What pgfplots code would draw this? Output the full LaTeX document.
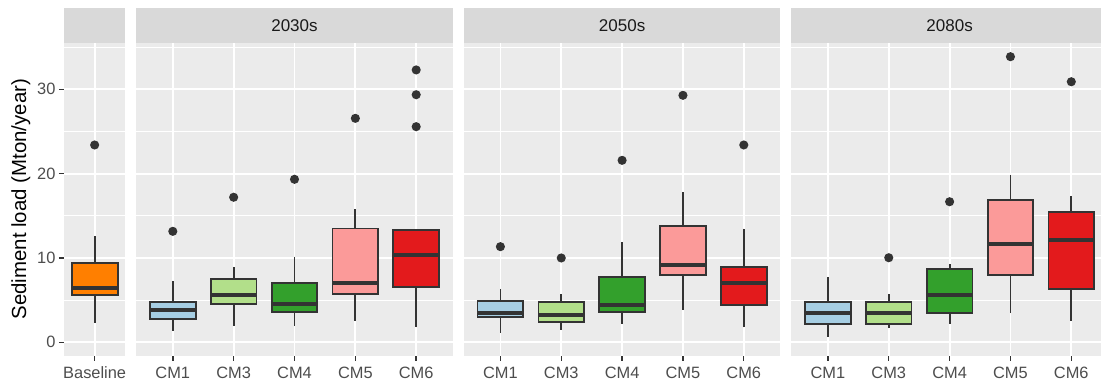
\documentclass[border=0pt]{standalone}
\usepackage{fontspec}
\setmainfont{Liberation Sans}
\usepackage{pgfplots}
\pgfplotsset{compat=1.18}
\usepgfplotslibrary{statistics}
\definecolor{panelbg}{HTML}{EBEBEB}
\definecolor{stripbg}{HTML}{D9D9D9}
\definecolor{striptext}{HTML}{1A1A1A}
\definecolor{textgray}{HTML}{4D4D4D}
\definecolor{tickcol}{HTML}{333333}
\definecolor{boxline}{HTML}{333333}
\definecolor{dotcol}{HTML}{333333}
\definecolor{cBase}{HTML}{FF7F00}
\definecolor{cCMa}{HTML}{A6CEE3}
\definecolor{cCMc}{HTML}{B2DF8A}
\definecolor{cCMd}{HTML}{33A02C}
\definecolor{cCMe}{HTML}{FB9A99}
\definecolor{cCMf}{HTML}{E31A1C}
\newcommand{\ticksize}{\fontsize{16.4}{19}\selectfont}
\newcommand{\stripsize}{\fontsize{17}{20}\selectfont}
\newcommand{\titlesize}{\fontsize{20.4}{24}\selectfont}
\pgfplotsset{
  panel/.style={
    scale only axis, height=313pt, ymin=-1.59, ymax=35.53,
    axis background/.style={fill=panelbg},
    axis line style={draw=none},
    ytick={0,10,20,30}, minor ytick={5,15,25,35},
    ymajorgrids, yminorgrids, xmajorgrids,
    major grid style={white, line width=1.8pt},
    minor grid style={white, line width=0.9pt},
    tick align=outside, major tick length=5pt, minor tick length=0pt,
    tick style={color=tickcol, line width=1.4pt},
    xtick pos=bottom, ytick pos=left,
    ticklabel style={font=\ticksize, text=textgray},
    xticklabel style={yshift=-2.5pt},
    /pgf/number format/assume math mode=true,
    clip=false,
    boxplot/draw direction=y,
    boxplot/box extend=0.75, boxplot/whisker extend=0,
    boxplot/every median/.style={line width=3.8pt},
  },
  cat/.style={xmin=0.4, xmax=5.6, xtick={1,2,3,4,5}, xticklabels={CM1,CM3,CM4,CM5,CM6}},
  noy/.style={yticklabels={}, ytick style={draw=none}},
  bx/.style={draw=boxline, line width=1.8pt, mark=*, mark size=3.6pt, mark options={draw=none, fill=dotcol}, fill=#1},
}
\newcommand{\strip}[1]{%
  \fill[stripbg] (rel axis cs:0,1) rectangle ([yshift=34.4pt]rel axis cs:1,1);
  \node[font=\stripsize, text=striptext] at ([yshift=17.2pt]rel axis cs:0.5,1) {#1};}
\begin{document}
\begin{tikzpicture}
\useasboundingbox (0pt,0pt) rectangle (1101pt,383pt);
\clip (0pt,0pt) rectangle (1101pt,383pt);
% Baseline
\begin{axis}[panel, at={(64pt,27.3pt)}, anchor=south west, width=61.3pt,
  xmin=0.5, xmax=1.5, xtick={1}, xticklabels={Baseline},
  ylabel={Sediment load (Mton/year)}, ylabel style={font=\titlesize, text=black}]
\addplot[bx=cBase, boxplot prepared={draw position=1, lower whisker=2.3, lower quartile=5.6, median=6.4, upper quartile=9.37, upper whisker=12.6}] coordinates {(0,23.4)};
\strip{}
\end{axis}
% 2030s
\begin{axis}[panel, cat, noy, at={(136.3pt,27.3pt)}, anchor=south west, width=316.4pt]
\addplot[bx=cCMa, boxplot prepared={draw position=1, lower whisker=1.38, lower quartile=2.76, median=3.83, upper quartile=4.74, upper whisker=7.3}] coordinates {(0,13.16)};
\addplot[bx=cCMc, boxplot prepared={draw position=2, lower whisker=1.93, lower quartile=4.54, median=5.65, upper quartile=7.47, upper whisker=8.97}] coordinates {(0,17.2)};
\addplot[bx=cCMd, boxplot prepared={draw position=3, lower whisker=1.93, lower quartile=3.63, median=4.54, upper quartile=7.0, upper whisker=10.15}] coordinates {(0,19.33)};
\addplot[bx=cCMe, boxplot prepared={draw position=4, lower whisker=2.56, lower quartile=5.73, median=7.07, upper quartile=13.5, upper whisker=15.8}] coordinates {(0,26.56)};
\addplot[bx=cCMf, boxplot prepared={draw position=5, lower whisker=1.78, lower quartile=6.52, median=10.39, upper quartile=13.3, upper whisker=13.3}] coordinates {(0,25.57) (0,29.36) (0,32.3)};
\strip{2030s}
\end{axis}
% 2050s
\begin{axis}[panel, cat, noy, at={(463.9pt,27.3pt)}, anchor=south west, width=316.4pt]
\addplot[bx=cCMa, boxplot prepared={draw position=1, lower whisker=1.14, lower quartile=2.96, median=3.51, upper quartile=4.93, upper whisker=6.36}] coordinates {(0,11.34)};
\addplot[bx=cCMc, boxplot prepared={draw position=2, lower whisker=1.46, lower quartile=2.37, median=3.2, upper quartile=4.78, upper whisker=5.73}] coordinates {(0,10.0)};
\addplot[bx=cCMd, boxplot prepared={draw position=3, lower whisker=2.17, lower quartile=3.56, median=4.46, upper quartile=7.78, upper whisker=11.86}] coordinates {(0,21.58)};
\addplot[bx=cCMe, boxplot prepared={draw position=4, lower whisker=3.83, lower quartile=7.94, median=9.13, upper quartile=13.83, upper whisker=17.82}] coordinates {(0,29.29)};
\addplot[bx=cCMf, boxplot prepared={draw position=5, lower whisker=1.78, lower quartile=4.39, median=7.0, upper quartile=8.89, upper whisker=13.47}] coordinates {(0,23.4)};
\strip{2050s}
\end{axis}
% 2080s
\begin{axis}[panel, cat, noy, at={(791.4pt,27.3pt)}, anchor=south west, width=316.4pt]
\addplot[bx=cCMa, boxplot prepared={draw position=1, lower whisker=0.66, lower quartile=2.17, median=3.44, upper quartile=4.81, upper whisker=7.71}] coordinates {};
\addplot[bx=cCMc, boxplot prepared={draw position=2, lower whisker=1.66, lower quartile=2.17, median=3.44, upper quartile=4.74, upper whisker=5.73}] coordinates {(0,10.03)};
\addplot[bx=cCMd, boxplot prepared={draw position=3, lower whisker=2.17, lower quartile=3.51, median=5.57, upper quartile=8.66, upper whisker=9.28}] coordinates {(0,16.67)};
\addplot[bx=cCMe, boxplot prepared={draw position=4, lower whisker=3.44, lower quartile=7.94, median=11.62, upper quartile=16.87, upper whisker=19.87}] coordinates {(0,33.87)};
\addplot[bx=cCMf, boxplot prepared={draw position=5, lower whisker=2.56, lower quartile=6.36, median=12.13, upper quartile=15.42, upper whisker=17.35}] coordinates {(0,30.9)};
\strip{2080s}
\end{axis}
\end{tikzpicture}
\end{document}
